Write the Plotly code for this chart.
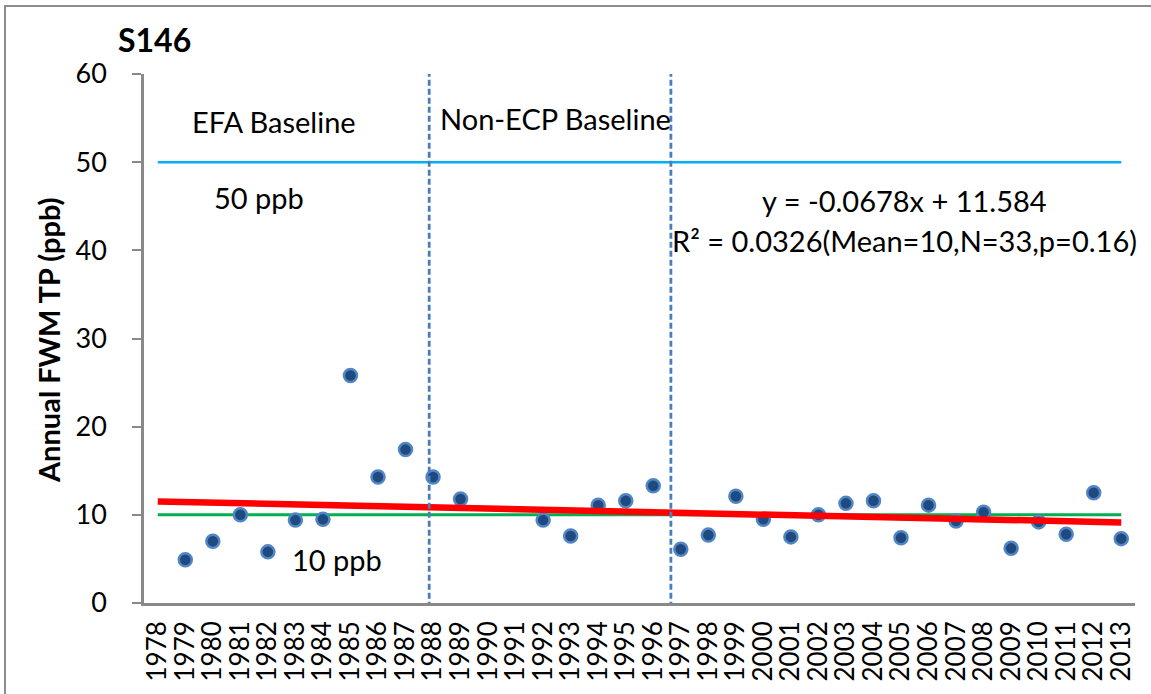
import plotly.graph_objects as go

# Annual flow-weighted mean total phosphorus at S146
years = [str(y) for y in range(1978, 2014)]
fwm_tp = [
    None, 4.9, 7.0, 10.0, 5.8, 9.4, 9.5, 25.8, 14.3, 17.4,
    14.3, 11.8, None, None, 9.4, 7.6, 11.1, 11.6, 13.3, 6.1,
    7.7, 12.1, 9.5, 7.5, 10.0, 11.3, 11.6, 7.4, 11.1, 9.3,
    10.3, 6.2, 9.2, 7.8, 12.5, 7.3,
]

# Linear trend as reported (x = category number, 1 = 1978)
trend_slope = -0.0678
trend_intercept = 11.584
trend_text = "y = -0.0678x + 11.584"
stats_text = "R² = 0.0326(Mean=10,N=33,p=0.16)"

# Reference concentrations (ppb)
ref_high = 50
ref_low = 10

# Period boundaries (category positions)
period_breaks = [9.86, 18.64]

W, H = 1151, 694
L, R, T, B = 144, 16, 74, 91
PW, PH = W - L - R, H - T - B

def px(x):
    return (x - L) / PW

def py(y):
    return (H - B - y) / PH

FONT = "Lato"
AXIS_GRAY = "#898989"

trend_y = [trend_slope * (i + 1) + trend_intercept for i in range(len(years))]

fig = go.Figure()

fig.add_trace(go.Scatter(
    x=[years[0], years[-1]], y=[ref_high, ref_high], mode="lines",
    line=dict(color="#00B0F0", width=2.5), hoverinfo="skip", showlegend=False,
))
fig.add_trace(go.Scatter(
    x=[years[0], years[-1]], y=[ref_low, ref_low], mode="lines",
    line=dict(color="#00B050", width=3), hoverinfo="skip", showlegend=False,
))
fig.add_trace(go.Scatter(
    x=years, y=fwm_tp, mode="markers",
    marker=dict(size=13, color="#1F4A80", line=dict(color="#5285C4", width=2.5)),
    showlegend=False,
))
fig.add_trace(go.Scatter(
    x=years, y=trend_y, mode="lines",
    line=dict(color="#FF0000", width=6.5), hoverinfo="skip", showlegend=False,
))

for xb in period_breaks:
    fig.add_shape(type="line", xref="x", yref="y", x0=xb, x1=xb, y0=-0.55, y1=60,
                  line=dict(color="#4A7EBB", width=2.8, dash="6px,3px"))

# outer chart border
fig.add_shape(type="rect", xref="paper", yref="paper",
              x0=px(5), x1=px(1170), y0=py(6), y1=py(710),
              line=dict(color="#8C8C8C", width=2), layer="below")

def note(text, x, y, size=29, bold=False):
    fig.add_annotation(
        text=f"<b>{text}</b>" if bold else text,
        xref="paper", yref="paper", x=px(x), y=py(y),
        xanchor="center", yanchor="middle", showarrow=False,
        font=dict(family=FONT, size=size, color="#000000"),
    )

note("S146", 154, 39, size=32, bold=True)
note("EFA Baseline", 274, 122)
note("Non-ECP Baseline", 555, 118)
note("50 ppb", 259, 197)
note("10 ppb", 337, 559)
note(trend_text, 904, 200)
note(stats_text, 904, 240)

# y-axis title placed as rotated text
fig.add_annotation(
    text="<b>Annual FWM TP (ppb)</b>", textangle=-90,
    xref="paper", yref="paper", x=px(48), y=py(340),
    xanchor="center", yanchor="middle", showarrow=False,
    font=dict(family=FONT, size=29, color="#000000"),
)

fig.update_layout(
    width=W, height=H,
    margin=dict(l=L, r=R, t=T, b=B, autoexpand=False),
    paper_bgcolor="white", plot_bgcolor="white",
    font=dict(family=FONT, color="#000000"),
    xaxis=dict(
        type="category", categoryorder="array", categoryarray=years,
        tickmode="array", tickvals=years, ticktext=years,
        range=[-0.5, len(years) - 0.5], automargin=False,
        showline=True, linecolor=AXIS_GRAY, linewidth=2.5,
        showgrid=False, zeroline=False, ticks="",
        ticklabelstandoff=5,
        tickangle=-90, tickfont=dict(family=FONT, size=26),
    ),
    yaxis=dict(
        range=[0, 60], tickvals=[0, 10, 20, 30, 40, 50, 60], automargin=False,
        showline=True, linecolor=AXIS_GRAY, linewidth=2.5,
        showgrid=False, zeroline=False,
        ticks="outside", ticklen=9, tickwidth=2, tickcolor=AXIS_GRAY,
        ticklabelstandoff=20,
        tickfont=dict(family=FONT, size=27),
    ),
)

fig.write_html("out.html")
